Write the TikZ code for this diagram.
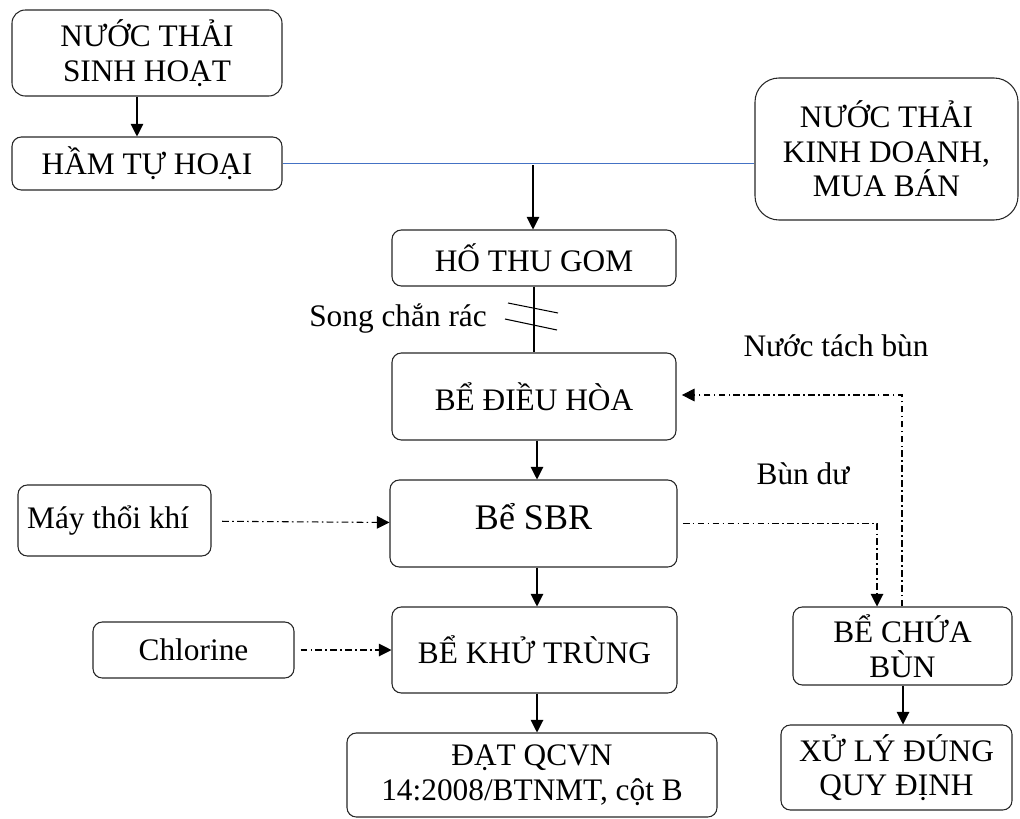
\documentclass[tikz,border=0pt]{standalone}
\usepackage{fontspec}
\setmainfont{Liberation Serif}
\usepackage{xcolor}
\usetikzlibrary{arrows.meta,shapes.misc}
\definecolor{pipeblue}{RGB}{68,114,196}

\begin{document}
\begin{tikzpicture}[x=0.75pt,y=-0.75pt]
    \tikzstyle{tank}=[draw=black!85, line width=0.8pt, rounded corners=7pt, align=center, font=\fontsize{23.5}{26}\selectfont, inner sep=2pt]
    \tikzstyle{txt}=[font=\fontsize{23.5}{26}\selectfont, inner sep=0pt]
    \tikzstyle{connect}=[-{Triangle[width=9.5pt,length=9.5pt]}, line width=0.8pt]
    \tikzstyle{dashdot}=[connect, dash pattern=on 5pt off 2.5pt on 1.2pt off 2.5pt]
    \useasboundingbox (0,0) rectangle (1020,818);
    % left column
    \node[tank, rounded corners=10pt, minimum width=202.5pt, minimum height=64.5pt] (sinh) at (147,53) {NƯỚC THẢI\\SINH HOẠT};
    \node[tank, minimum width=202.5pt, minimum height=39.75pt] (ham) at (147,163.5) {HẦM TỰ HOẠI};
    \node[tank, rounded corners=18pt, minimum width=197.25pt, minimum height=106.5pt] (kinh) at (886.5,149) {NƯỚC THẢI\\KINH DOANH,\\MUA BÁN};
    % main line
    \node[tank, minimum width=213pt, minimum height=42pt] (hothu) at (534,258) {HỐ THU GOM};
    \node[tank, minimum width=213pt, minimum height=65.25pt] (dieuhoa) at (534,396.5) {BỂ ĐIỀU HÒA};
    \node[tank, minimum width=215.25pt, minimum height=65.25pt, font=\fontsize{27}{30}\selectfont, text depth=10pt] (sbr) at (533.5,523.5) {Bể SBR};
    \node[tank, minimum width=213.75pt, minimum height=64.5pt] (khu) at (534.5,650) {BỂ KHỬ TRÙNG};
    \node[tank, minimum width=277.5pt, minimum height=63pt] (dat) at (532,775) {ĐẠT QCVN\\14:2008/BTNMT, cột B};
    % inputs
    \node[tank, minimum width=144.75pt, minimum height=53.25pt] (may) at (114.5,520.5) {\makebox[131pt][l]{Máy thổi khí}};
    \node[tank, minimum width=150.75pt, minimum height=42pt] (chlor) at (193.5,650) {Chlorine};
    % sludge
    \node[tank, minimum width=164.25pt, minimum height=58.5pt] (bechua) at (902.5,646) {BỂ CHỨA\\BÙN};
    \node[tank, minimum width=173.25pt, minimum height=63.75pt] (xuly) at (896.5,767.5) {XỬ LÝ ĐÚNG\\QUY ĐỊNH};
    % labels
    \node[txt] (song) at (398,319) {Song chắn rác};
    \node[txt] (tach) at (836,346) {Nước tách bùn};
    \node[txt] (budu) at (803,474) {Bùn dư};
    \coordinate (jn) at (533,165);
    \coordinate (grid) at (535,319);

    \draw[pipeblue, line width=0.9pt] (ham.east) -- (ham.east -| kinh.west);
    \path ([xshift=-7.5pt]sinh.south) edge [connect] ([xshift=-7.5pt]ham.north)
    (jn) edge [connect] (jn |- hothu.north)
    (dieuhoa.south -| 537,0) edge [connect] (sbr.north -| 537,0)
    (sbr.south -| 537,0) edge [connect] (khu.north -| 537,0)
    (khu.south -| 537,0) edge [connect] (dat.north -| 537,0)
    (bechua.south -| 903,0) edge [connect] (xuly.north -| 903,0)
    (may) edge [dashdot, shorten <=8pt] (sbr)
    (chlor) edge [dashdot, shorten <=4.5pt] (khu);
    \draw[line width=0.8pt] (hothu.south) -- (dieuhoa.north);
    % bar screen
    \draw[line width=0.8pt] ([shift={(-27,-16)}]grid) -- ([shift={(23,-6)}]grid)
    ([shift={(-30,0)}]grid) -- ([shift={(22,11)}]grid);
    % sludge lines
    \draw[dashdot] ([xshift=4pt]sbr.east) -- (sbr.east -| 877,0) -- (bechua.north -| 877,0);
    \draw[dashdot] (bechua.north -| 902,0) -- (902,395) -- ([xshift=4pt]dieuhoa.east |- 0,395);
\end{tikzpicture}
\end{document}
